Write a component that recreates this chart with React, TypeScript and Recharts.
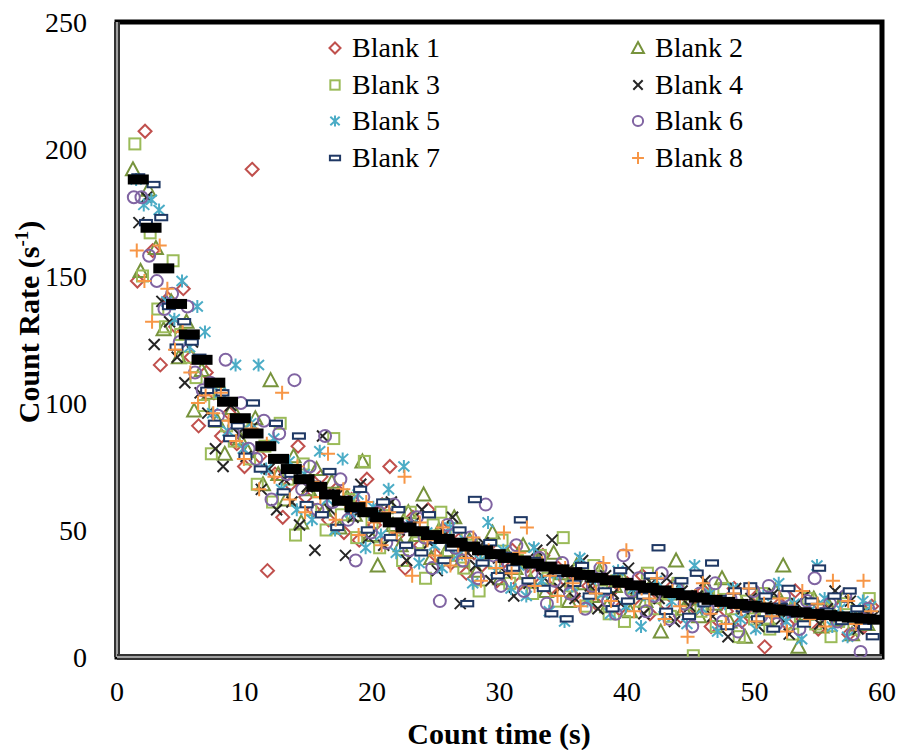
import { ScatterChart, Scatter, XAxis, YAxis, ReferenceArea, ReferenceLine, Label } from 'recharts'

const FONT = '"Liberation Serif", "Times New Roman", serif'

// count times (s) shared by the blanks, each blank is offset a little
const countTimes = [
  1.3, 1.9, 2.5, 3.1, 3.7, 4.3, 4.9, 5.5, 6.1, 6.7,
  7.3, 7.9, 8.5, 9.1, 9.7, 10.3, 10.9, 11.5, 12.1, 12.7,
  13.3, 13.9, 14.5, 15.1, 15.7, 16.3, 16.9, 17.5, 18.1, 18.7,
  19.3, 19.9, 20.5, 21.1, 21.7, 22.3, 22.9, 23.5, 24.1, 24.7,
  25.3, 25.9, 26.5, 27.1, 27.7, 28.3, 28.9, 29.5, 30.1, 30.7,
  31.3, 31.9, 32.5, 33.1, 33.7, 34.3, 34.9, 35.5, 36.1, 36.7,
  37.3, 37.9, 38.5, 39.1, 39.7, 40.3, 40.9, 41.5, 42.1, 42.7,
  43.3, 43.9, 44.5, 45.1, 45.7, 46.3, 46.9, 47.5, 48.1, 48.7,
  49.3, 49.9, 50.5, 51.1, 51.7, 52.3, 52.9, 53.5, 54.1, 54.7,
  55.3, 55.9, 56.5, 57.1, 57.7, 58.3, 58.9,
]
const timeShift = [0.3, -0.05, 0.1, 0.42, 0.2, 0.02, 0.37, 0.25]

const blank1 = [
  148, 207, 160, 115, 141, 130, 145, 118, 91, 112,
  104, 87, 96, 84, 75, 192, 79, 34, 72, 55,
  68, 83, 63, 58, 71, 54, 66, 49, 62, 46,
  70, 52, 60, 75, 48, 35, 55, 44, 58, 40,
  50, 37, 46, 33, 41, 36, 44, 30, 38, 42,
  29, 36, 32, 40, 27, 35, 30, 24, 33, 28,
  21, 31, 26, 19, 29, 23, 32, 17, 25, 21,
  28, 16, 23, 19, 26, 12, 22, 18, 27, 14,
  20, 24, 4, 17, 21, 13, 26, 15, 19, 11,
  18, 22, 14, 9, 17, 12, 20,
]
const blank2 = [
  192, 152, 184, 161, 129, 140, 118, 132, 97, 113,
  104, 93, 80, 98, 86, 81, 94, 68, 109, 72,
  62, 79, 53, 66, 74, 58, 69, 51, 63, 56,
  77, 48, 36, 59, 52, 44, 57, 48, 64, 39,
  50, 42, 55, 38, 46, 34, 43, 49, 31, 40,
  35, 44, 30, 38, 26, 41, 33, 22, 36, 29,
  24, 34, 20, 28, 31, 18, 26, 22, 30, 10,
  25, 38, 19, 23, 16, 27, 21, 31, 14, 24,
  8, 18, 22, 15, 26, 36, 19, 4, 17, 23,
  12, 20, 15, 24, 9, 18, 13,
]
const blank3 = [
  202, 150, 167, 137, 130, 156, 127, 118, 110, 99,
  80, 104, 91, 85, 93, 78, 68, 83, 61, 92,
  70, 48, 76, 58, 65, 50, 86, 56, 62, 47,
  77, 53, 43, 60, 50, 38, 57, 45, 31, 52,
  57, 40, 48, 35, 44, 26, 41, 37, 46, 29,
  38, 33, 25, 40, 31, 22, 47, 28, 34, 20,
  36, 26, 17, 30, 14, 27, 22, 33, 19, 25,
  16, 29, 21, 0.5, 18, 24, 12, 27, 19, 8,
  22, 15, 25, 11, 18, 21, 9, 16, 23, 13,
  19, 8, 14, 21, 11, 17, 23,
]
const blank4 = [
  171, 181, 123, 140, 132, 118, 108, 124, 104, 96,
  82, 75, 99, 88, 79, 91, 66, 74, 58, 70,
  61, 52, 67, 42, 87, 58, 64, 40, 55, 68,
  47, 56, 44, 61, 50, 38, 53, 58, 45, 34,
  49, 55, 21, 41, 36, 45, 30, 39, 33, 24,
  37, 29, 42, 31, 46, 27, 34, 23, 38, 28,
  19, 32, 25, 21, 35, 27, 17, 29, 23, 31,
  14, 26, 20, 24, 30, 16, 22, 8, 27, 19,
  23, 12, 20, 25, 15, 9, 21, 24, 17, 13,
  19, 26, 15, 22, 11, 18, 16,
]
const blank5 = [
  188, 178, 180, 176, 140, 133, 148, 122, 138, 128,
  96, 104, 89, 115, 82, 92, 115, 74, 86, 66,
  77, 58, 72, 54, 81, 62, 50, 78, 57, 64,
  43, 59, 48, 66, 41, 75, 52, 37, 49, 44,
  35, 51, 40, 46, 29, 38, 53, 34, 42, 27,
  36, 24, 43, 30, 18, 33, 14, 28, 39, 22,
  31, 25, 17, 34, 20, 27, 12, 24, 30, 16,
  22, 28, 13, 36, 19, 25, 10, 21, 27, 15,
  20, 11, 24, 17, 29, 14, 21, 7, 18, 36,
  23, 12, 19, 8, 16, 22, 20,
]
const blank6 = [
  181, 181, 158, 148, 137, 143, 124, 138, 112, 105,
  108, 95, 117, 88, 100, 82, 78, 93, 62, 88,
  72, 109, 66, 75, 58, 87, 61, 70, 54, 38,
  63, 49, 57, 45, 60, 51, 42, 55, 47, 35,
  22, 52, 43, 38, 47, 31, 60, 40, 28, 36,
  44, 26, 33, 39, 21, 30, 37, 25, 32, 19,
  28, 35, 22, 17, 40, 26, 31, 18, 24, 33,
  15, 27, 21, 12, 25, 19, 29, 14, 23, 10,
  20, 26, 16, 28, 13, 24, 18, 11, 22, 31,
  17, 21, 14, 24, 9, 2, 19,
]
const blank7 = [
  189, 171, 186, 173, 138, 122, 132, 124, 118, 105,
  92, 104, 86, 91, 79, 100, 74, 83, 92, 65,
  72, 87, 60, 68, 56, 73, 51, 62, 58, 66,
  50, 55, 61, 47, 58, 44, 52, 41, 56, 46,
  38, 43, 50, 21, 62, 37, 45, 32, 40, 35,
  54, 30, 38, 27, 17, 33, 15, 29, 36, 24,
  31, 26, 19, 34, 22, 28, 24, 32, 43, 18,
  25, 30, 16, 33, 21, 37, 23, 12, 26, 19,
  28, 15, 24, 11, 20, 27, 17, 13, 22, 35,
  18, 24, 14, 26, 19, 12, 8,
]
const blank8 = [
  160, 148, 132, 162, 145, 121, 128, 112, 100, 103,
  96, 104, 93, 85, 78, 90, 66, 84, 71, 104,
  62, 75, 57, 69, 63, 80, 54, 66, 59, 48,
  61, 53, 44, 57, 49, 71, 32, 53, 46, 40,
  51, 36, 44, 39, 47, 30, 42, 35, 49, 33,
  41, 51, 28, 37, 32, 24, 35, 29, 20, 31,
  25, 37, 22, 29, 42, 18, 27, 23, 31, 15,
  26, 20, 8, 24, 29, 17, 22, 13, 25, 19,
  27, 14, 21, 16, 23, 10, 19, 26, 15, 21,
  12, 30, 17, 22, 13, 30, 18,
]

// fitted decay curve (black squares)
const fitTimes = [
  1.67, 2.67, 3.67, 4.67, 5.67, 6.67, 7.67, 8.67, 9.67, 10.67,
  11.67, 12.67, 13.67, 14.67, 15.67, 16.67, 17.67, 18.67, 19.67, 20.67,
  21.67, 22.67, 23.67, 24.67, 25.67, 26.67, 27.67, 28.67, 29.67, 30.67,
  31.67, 32.67, 33.67, 34.67, 35.67, 36.67, 37.67, 38.67, 39.67, 40.67,
  41.67, 42.67, 43.67, 44.67, 45.67, 46.67, 47.67, 48.67, 49.67, 50.67,
  51.67, 52.67, 53.67, 54.67, 55.67, 56.67, 57.67, 58.67, 59.67,
]
const fitRates = [
  188, 169, 153, 139, 127, 117, 108, 100.5, 94, 88,
  83, 78, 74, 70, 67, 64, 61.5, 59, 57, 55,
  53, 51, 49.5, 48, 46.5, 45, 43.5, 42, 40.5, 39,
  38, 36.8, 35.6, 34.5, 33.4, 32.3, 31.2, 30.2, 29.2, 28.2,
  27.2, 26.2, 25.2, 24.3, 23.4, 22.5, 21.7, 20.9, 20.2, 19.5,
  18.8, 18.2, 17.6, 17.0, 16.5, 16.0, 15.5, 15.1, 14.7,
]

const xTicks = [0, 10, 20, 30, 40, 50, 60]
const yTicks = [0, 50, 100, 150, 200, 250]

const seriesNames = ['Blank 1', 'Blank 2', 'Blank 3', 'Blank 4', 'Blank 5', 'Blank 6', 'Blank 7', 'Blank 8']
const seriesRates = [blank1, blank2, blank3, blank4, blank5, blank6, blank7, blank8]
const seriesColors = ['#C0504D', '#77933C', '#9BBB59', '#262626', '#4BACC6', '#8064A2', '#1F3864', '#F79646']
const seriesMarks = ['diamond', 'triangle', 'square', 'x', 'star', 'circle', 'dash', 'plus']

const SW = 2

function drawMark(kind: string, cx: number, cy: number, color: string, s = 1) {
  switch (kind) {
    case 'diamond':
      return <path d={`M${cx} ${cy - 6.5 * s}L${cx + 6.5 * s} ${cy}L${cx} ${cy + 6.5 * s}L${cx - 6.5 * s} ${cy}Z`} fill="none" stroke={color} strokeWidth={SW} />
    case 'triangle':
      return <path d={`M${cx} ${cy - 7 * s}L${cx + 7 * s} ${cy + 6 * s}L${cx - 7 * s} ${cy + 6 * s}Z`} fill="none" stroke={color} strokeWidth={SW} />
    case 'square':
      return <rect x={cx - 5.5 * s} y={cy - 5.5 * s} width={11 * s} height={11 * s} fill="none" stroke={color} strokeWidth={SW} />
    case 'x':
      return <path d={`M${cx - 5.5 * s} ${cy - 5.5 * s}L${cx + 5.5 * s} ${cy + 5.5 * s}M${cx - 5.5 * s} ${cy + 5.5 * s}L${cx + 5.5 * s} ${cy - 5.5 * s}`} stroke={color} strokeWidth={SW} />
    case 'star':
      return <path d={`M${cx - 5.5 * s} ${cy - 5 * s}L${cx + 5.5 * s} ${cy + 5 * s}M${cx - 5.5 * s} ${cy + 5 * s}L${cx + 5.5 * s} ${cy - 5 * s}M${cx} ${cy - 6.5 * s}L${cx} ${cy + 6.5 * s}`} stroke={color} strokeWidth={SW} />
    case 'circle':
      return <circle cx={cx} cy={cy} r={6 * s} fill="none" stroke={color} strokeWidth={SW} />
    case 'dash':
      return <rect x={cx - 6 * s} y={cy - 2.7 * s} width={12 * s} height={5.4 * s} fill="#fff" stroke={color} strokeWidth={SW} />
    case 'plus':
      return <path d={`M${cx - 7 * s} ${cy}L${cx + 7 * s} ${cy}M${cx} ${cy - 7 * s}L${cx} ${cy + 7 * s}`} stroke={color} strokeWidth={SW} />
    default:
      return <rect x={cx - 10.5} y={cy - 5} width={21} height={10} fill="#000" />
  }
}

function toPoints(times: number[], shift: number, rates: number[]) {
  return rates.map((y, i) => ({ x: times[i] + shift, y }))
}

const fitData = fitRates.map((y, i) => ({ x: fitTimes[i], y }))

function YTitle() {
  return (
    <text transform="translate(39, 322) rotate(-90)" textAnchor="middle" fontFamily={FONT} fontSize={30} fontWeight="bold" fill="#000">
      Count Rate (s<tspan dy={-11} fontSize={19}>-1</tspan>
      <tspan dy={11}>)</tspan>
    </text>
  )
}

function XTitle() {
  return (
    <text x={499} y={744} textAnchor="middle" fontFamily={FONT} fontSize={30} fontWeight="bold" fill="#000">
      Count time (s)
    </text>
  )
}

function LegendBox() {
  return (
    <div style={{ position: 'absolute', left: 325, top: 30, width: 460, height: 150, fontFamily: FONT, fontSize: 28, color: '#000' }}>
      {seriesNames.map((name, i) => (
        <div
          key={name}
          style={{ position: 'absolute', left: (i % 2) * 303, top: Math.floor(i / 2) * 36.5, height: 36, display: 'flex', alignItems: 'center', whiteSpace: 'nowrap' }}
        >
          <svg width={20} height={20}>{drawMark(seriesMarks[i], 10, 10, seriesColors[i], 0.85)}</svg>
          <span style={{ marginLeft: 7, lineHeight: '36px' }}>{name}</span>
        </div>
      ))}
    </div>
  )
}

export default function App() {
  const tickStyle = { fontFamily: FONT, fontSize: 28, fill: '#000' }
  return (
    <div style={{ position: 'absolute', left: 0, top: 0, width: 899, height: 750, background: '#fff' }}>
      <ScatterChart width={899} height={750} margin={{ top: 22, right: 17, bottom: 0, left: 0 }}>
        <XAxis
          type="number"
          dataKey="x"
          domain={[0, 60]}
          ticks={xTicks}
          allowDataOverflow
          height={93}
          tickLine={false}
          tickSize={0}
          tickMargin={24}
          axisLine={false}
          tick={tickStyle}
        >
          <Label content={XTitle} />
        </XAxis>
        <YAxis
          type="number"
          dataKey="y"
          domain={[0, 250]}
          ticks={yTicks}
          allowDataOverflow
          width={117}
          tickLine={false}
          tickSize={0}
          tickMargin={30}
          axisLine={false}
          tick={tickStyle}
        >
          <Label content={YTitle} />
        </YAxis>
        <ReferenceArea x1={0} x2={60} y1={0} y2={250} fill="none" stroke="#000" strokeWidth={5} ifOverflow="visible" />
        <ReferenceLine x={0} stroke="#333" strokeWidth={6} ifOverflow="visible" />
        <ReferenceLine x={0} stroke="#a0a0a0" strokeWidth={2} ifOverflow="visible" />
        <ReferenceLine y={0} stroke="#333" strokeWidth={6} ifOverflow="visible" />
        <ReferenceLine y={0} stroke="#a0a0a0" strokeWidth={2} ifOverflow="visible" />
        {seriesNames.map((name, i) => (
          <Scatter
            key={name}
            name={name}
            data={toPoints(countTimes, timeShift[i], seriesRates[i])}
            isAnimationActive={false}
            shape={(p: { cx?: number; cy?: number }) => drawMark(seriesMarks[i], p.cx ?? 0, p.cy ?? 0, seriesColors[i])}
          />
        ))}
        <Scatter
          name="Fit"
          data={fitData}
          isAnimationActive={false}
          shape={(p: { cx?: number; cy?: number }) => drawMark('fit', p.cx ?? 0, p.cy ?? 0, '#000')}
        />
      </ScatterChart>
      <LegendBox />
    </div>
  )
}
